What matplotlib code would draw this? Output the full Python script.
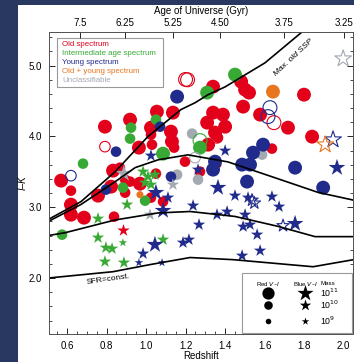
import matplotlib
matplotlib.use("Agg")
import matplotlib.pyplot as plt
from matplotlib.patches import Rectangle
import numpy as np

plt.rcParams['font.family'] = ['Liberation Sans', 'DejaVu Sans']

# ---------------- data ----------------
# Red V-I (circles), filled, old spectrum
old_c_z  = [1.339,1.481,1.501,1.521,1.799,1.491,1.055,1.136,0.919,1.339,1.389,1.309,1.400,1.349,1.314,
            1.577,1.718,1.840,1.637,0.792,1.025,1.025,1.126,1.131,1.030,0.964,1.142,1.197,0.833,0.868,
            0.894,0.823,0.757,0.919,0.894,0.969,1.050,1.025,1.086,0.838,0.570,0.620,0.620,0.620,0.686,
            1.273,1.364,1.364]
old_c_ik = [4.703,4.774,4.661,4.619,4.590,4.421,4.350,4.336,4.237,4.336,4.308,4.195,4.138,4.054,3.884,
            4.308,4.124,3.997,3.828,4.138,4.124,4.025,4.068,3.927,3.884,3.842,3.842,3.644,3.517,3.559,
            3.390,3.291,3.164,3.362,3.206,3.333,3.475,3.136,3.079,2.867,3.376,3.234,3.037,2.895,2.853,
            3.503,3.602,3.983]
old_c_m  = [11,11,11,11,11,11,11,11,11,11,11,11,11,11,11,
            11,11,11,10,11,11,10,11,11,10,11,10,10,11,10,
            10,11,11,10,10,11,10,10,10,10,11,10,11,11,11,
            10,9,10]
# open red circles
old_o_z  = [1.200,1.210,1.647,0.792,1.359]
old_o_ik = [4.805,4.800,4.195,3.856,3.980]
old_o_m  = [11,11,11,10,10]

# young spectrum circles
yng_c_z  = [1.157,0.848,1.071,0.797,1.126,1.592,1.541,1.349,1.339,1.486,1.526,1.754,1.511,1.896]
yng_c_ik = [4.562,3.785,4.138,3.249,3.432,3.884,3.771,3.644,3.531,3.602,3.602,3.559,3.362,3.277]
yng_c_m  = [11,10,10,10,10,11,11,11,11,11,11,11,11,11]
yng_o_z  = [1.627,1.617,0.620]
yng_o_ik = [4.407,4.280,3.446]
yng_o_m  = [11,11,10]

# intermediate-age circles
int_c_z  = [1.450,1.309,0.681,0.924,0.919,1.050,1.086,1.273,0.883,0.995,0.575]
int_c_ik = [4.873,4.619,3.616,4.124,3.969,4.237,3.757,3.842,3.277,3.093,2.613]
int_c_m  = [11,11,10,10,10,10,11,11,10,10,10]
int_o_z  = [1.273]
int_o_ik = [3.941]
int_o_m  = [11]

# unclassifiable circles
unc_c_z  = [1.233,1.263,1.157,1.587]
unc_c_ik = [4.040,3.390,3.460,3.743]
unc_c_m  = [10,10,10,10]
unc_o_z  = [1.248]
unc_o_ik = [3.701]
unc_o_m  = [10]

# old + young circles
oy_c_z  = [1.642,0.969]
oy_c_ik = [4.633,3.178]
oy_c_m  = [11,9]

# Blue V-I (stars)
yng_s_z  = [1.025,1.400,1.966,1.263,1.364,1.450,1.516,1.637,1.673,1.050,1.111,1.086,1.238,1.268,
            1.359,1.410,1.501,1.491,1.526,1.754,1.562,1.577,1.486,1.045,0.985,0.964,1.081,1.187,1.217]
yng_s_ik = [3.729,3.799,3.559,3.531,3.277,3.164,3.136,3.150,3.008,3.206,3.136,2.952,3.023,2.754,
            2.895,2.938,2.895,2.726,2.754,2.768,2.613,2.387,2.316,2.472,2.345,2.218,2.218,2.500,2.542]
yng_s_m  = [10,10,11,10,11,10,10,10,10,11,10,11,10,10,
            10,10,10,10,10,11,10,10,10,11,10,9,9,10,10]
yng_so_z  = [1.946,1.536,1.548,1.693]
yng_so_ik = [3.955,3.100,3.060,2.740]
yng_so_m  = [11,10,10,10]

int_s_z  = [0.985,1.010,1.045,0.995,1.025,0.904,0.757,0.757,0.797,0.828,0.883,0.792,0.888,1.086]
int_s_ik = [3.503,3.432,3.460,3.347,3.319,3.037,2.839,2.571,2.429,2.415,2.500,2.232,2.218,2.542]
int_s_m  = [10,10,10,10,10,10,10,10,10,10,9,10,10,10]

unc_s_z  = [0.888,1.136,1.020]
unc_s_ik = [3.475,3.319,2.895]
unc_s_m  = [11,10,10]
unc_so_z  = [1.997]
unc_so_ik = [5.099]
unc_so_m  = [11]

old_s_z  = [0.883]
old_s_ik = [2.684]
old_s_m  = [10]

oy_so_z  = [1.906]
oy_so_ik = [3.884]
oy_so_m  = [11]

# model tracks
ssp_z  = [0.504,0.671,0.843,1.010,1.177,1.248,1.314,1.400,1.602,1.804]
ssp_ik = [2.825,3.080,3.500,4.000,4.380,4.476,4.590,4.700,5.040,5.510]
mid1_z  = [0.504,0.671,0.843,0.945,1.061,1.212,1.415,1.638,1.870,2.050]
mid1_ik = [2.797,3.040,3.360,3.560,3.670,3.740,3.640,3.430,3.210,3.100]
mid2_z  = [0.504,0.590,0.843,1.061,1.223,1.450,1.668,1.855,2.050]
mid2_ik = [2.600,2.640,2.820,2.920,2.940,2.870,2.730,2.585,2.585]
sfr_z  = [0.504,0.833,1.020,1.223,1.440,1.845,2.050]
sfr_ik = [2.000,2.090,2.190,2.290,2.260,2.160,2.260]

age_labels = ['7.5', '6.25', '5.25', '4.50', '3.75', '3.25']
age_z      = [0.666, 0.894, 1.137, 1.376, 1.696, 2.000]

legend_names  = ['Old spectrum', 'Intermediate age spectrum', 'Young spectrum',
                 'Old + young spectrum', 'Unclassifiable']
mass_labels = ['10$^{11}$', '10$^{10}$', '10$^{9}$']

# ---------------- style ----------------
RED = '#e2001a'
GREEN = '#39a935'
NAVY = '#202b8c'
ORANGE = '#e8761f'
GRAY = '#a2a9b1'
legend_colors = [RED, GREEN, NAVY, ORANGE, GRAY]

CIRC = {11: 100, 10: 58, 9: 26}
STAR = {11: 160, 10: 88, 9: 42}

fig = plt.figure(figsize=(3.54, 3.62), dpi=100)
fig.patch.set_facecolor('#283860')
fig.patches.append(Rectangle((18/354, 0), 1, (362-5)/362, transform=fig.transFigure,
                             facecolor='white', edgecolor='none', zorder=-10))

ax = fig.add_axes([49/354, (362-334)/362, 304/354, 302/362])
ax.set_zorder(1)
ax.set_xlim(0.509, 2.047)
ax.set_ylim(1.21, 5.475)


def pts(z, ik, m, color, marker, filled):
    sizes = [(CIRC if marker == 'o' else STAR)[v] for v in m]
    if filled:
        ax.scatter(z, ik, s=sizes, c=color, marker=marker, linewidths=0, zorder=2)
    else:
        ax.scatter(z, ik, s=sizes, facecolors='none', edgecolors=color, marker=marker,
                   linewidths=0.8, zorder=2)


pts(old_c_z, old_c_ik, old_c_m, RED, 'o', True)
pts(int_c_z, int_c_ik, int_c_m, GREEN, 'o', True)
pts(unc_c_z, unc_c_ik, unc_c_m, GRAY, 'o', True)
pts(oy_c_z, oy_c_ik, oy_c_m, ORANGE, 'o', True)
pts(yng_c_z, yng_c_ik, yng_c_m, NAVY, 'o', True)
pts(old_o_z, old_o_ik, old_o_m, RED, 'o', False)
pts(yng_o_z, yng_o_ik, yng_o_m, NAVY, 'o', False)
pts(int_o_z, int_o_ik, int_o_m, GREEN, 'o', False)
pts(unc_o_z, unc_o_ik, unc_o_m, GRAY, 'o', False)
pts(int_s_z, int_s_ik, int_s_m, GREEN, '*', True)
pts(unc_s_z, unc_s_ik, unc_s_m, GRAY, '*', True)
pts(old_s_z, old_s_ik, old_s_m, RED, '*', True)
pts(yng_s_z, yng_s_ik, yng_s_m, NAVY, '*', True)
pts(yng_so_z, yng_so_ik, yng_so_m, NAVY, '*', False)
pts(unc_so_z, unc_so_ik, unc_so_m, GRAY, '*', False)
pts(oy_so_z, oy_so_ik, oy_so_m, ORANGE, '*', False)

for zz, yy in [(ssp_z, ssp_ik), (mid1_z, mid1_ik), (mid2_z, mid2_ik), (sfr_z, sfr_ik)]:
    ax.plot(zz, yy, color='black', lw=1.2, zorder=3, solid_joinstyle='round')

ax.text(1.745, 5.11, 'Max. old SSP', rotation=43, fontsize=6, style='italic',
        ha='center', va='center', zorder=4)
ax.text(0.81, 1.985, 'SFR=const.', rotation=8, fontsize=6, ha='center', va='center', zorder=4)

# axes styling
ax.set_xticks(np.arange(0.6, 2.01, 0.2))
ax.set_xticklabels(['0.6', '0.8', '1.0', '1.2', '1.4', '1.6', '1.8', '2.0'])
ax.set_xticks(np.arange(0.55, 2.05, 0.05), minor=True)
ax.set_yticks([2.0, 3.0, 4.0, 5.0])
ax.set_yticklabels(['2.0', '3.0', '4.0', '5.0'])
ax.set_yticks(np.arange(1.4, 5.41, 0.2), minor=True)
ax.tick_params(axis='both', which='major', direction='in', length=4, width=0.6,
               labelsize=7, right=True, top=False, pad=5)
ax.tick_params(axis='both', which='minor', direction='in', length=2, width=0.5,
               right=True, top=False)
for sp in ax.spines.values():
    sp.set_linewidth(0.7)
    sp.set_color('#555555')
ax.set_xlabel('Redshift', fontsize=7, labelpad=0)
ax.set_ylabel('I\u2013K', fontsize=7, style='italic', labelpad=1)

top = ax.twiny()
top.set_zorder(2)
top.patch.set_visible(False)
top.set_xlim(ax.get_xlim())
top.set_xticks(age_z)
top.set_xticklabels(age_labels)
top.tick_params(axis='x', direction='in', length=4, width=0.6, labelsize=7, pad=3)
top.set_xlabel('Age of Universe (Gyr)', fontsize=7, labelpad=3)
for sp in top.spines.values():
    sp.set_linewidth(0.7)
    sp.set_color('#555555')

# upper-left legend
ax.add_patch(Rectangle((0.026, 0.818), 0.349, 0.162, transform=ax.transAxes,
                       facecolor='white', edgecolor='#999999', lw=0.8, zorder=5))
ly = [0.960, 0.929, 0.899, 0.868, 0.839]
for name, col, yv in zip(legend_names, legend_colors, ly):
    ax.text(0.044, yv, name, color=col, fontsize=5.7, transform=ax.transAxes,
            va='center', ha='left', zorder=6)

# lower-right legend
ax.add_patch(Rectangle((0.635, 0.003), 0.362, 0.199, transform=ax.transAxes,
                       facecolor='white', edgecolor='#999999', lw=0.8, zorder=5))
ax.text(0.720, 0.166, 'Red $V$\u2013$I$', fontsize=4.4, transform=ax.transAxes,
        ha='center', va='center', zorder=6)
ax.text(0.842, 0.166, 'Blue $V$\u2013$I$', fontsize=4.4, transform=ax.transAxes,
        ha='center', va='center', zorder=6)
ax.text(0.918, 0.166, 'Mass', fontsize=4.4, transform=ax.transAxes,
        ha='center', va='center', zorder=6)
rows = [0.136, 0.096, 0.043]
leg_c = [78, 38, 16]
leg_s = [150, 75, 32]
for yv, sc, ss, lab in zip(rows, leg_c, leg_s, mass_labels):
    ax.scatter([0.720], [yv], s=sc, c='black', marker='o', transform=ax.transAxes,
               linewidths=0, zorder=6)
    ax.scatter([0.842], [yv], s=ss, c='black', marker='*', transform=ax.transAxes,
               linewidths=0, zorder=6)
    ax.text(0.891, yv, lab, fontsize=6.3, transform=ax.transAxes, ha='left',
            va='center', zorder=6)

fig.savefig('out.png', dpi=100, facecolor=fig.get_facecolor())
